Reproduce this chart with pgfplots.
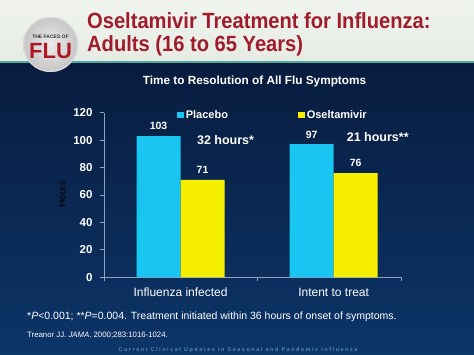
\documentclass[border=0pt]{standalone}
\usepackage{pgfplots}
\pgfplotsset{compat=1.18}
\usepackage{fontspec}
\setmainfont{Liberation Sans}
\definecolor{navytop}{HTML}{081C3E}
\definecolor{navybot}{HTML}{0C3568}
\definecolor{headbg}{HTML}{E6ECE3}
\definecolor{tealline}{HTML}{4AA8A0}
\definecolor{titlered}{HTML}{A01C2C}
\definecolor{barcyan}{HTML}{19C6F2}
\definecolor{baryellow}{HTML}{F6F000}
\definecolor{axisgray}{HTML}{8CA2C2}
\definecolor{footblue}{HTML}{5A86B8}
\begin{document}
\begin{tikzpicture}
% backgrounds
\shade[top color=navytop, bottom color=navybot] (0pt,0pt) rectangle (474pt,292pt);
\shade[top color=headbg!60!white, bottom color=headbg] (0pt,293.5pt) rectangle (474pt,355pt);
\fill[tealline] (0pt,291.5pt) rectangle (474pt,293.8pt);
% logo
\shade[inner color=gray!15, outer color=gray!45] (50.5pt,310.5pt) circle (27.5pt);
\draw[white!70!gray, line width=1.2pt] (50.5pt,310.5pt) circle (27pt);
\node[font=\bfseries\fontsize{5}{5}\selectfont, text=black!80, inner sep=0pt] at (50.5pt,318pt) {THE FACES OF};
\node[font=\bfseries\fontsize{22}{22}\selectfont, text=titlered!85!red, inner sep=0pt] at (50.5pt,304pt) {FLU};
% slide title
\node[anchor=base west, font=\bfseries\fontsize{22}{22}\selectfont, text=titlered, inner sep=0pt] at (87pt,326pt) {\scalebox{0.915}[1]{Oseltamivir Treatment for Influenza:}};
\node[anchor=base west, font=\bfseries\fontsize{22}{22}\selectfont, text=titlered, inner sep=0pt] at (87pt,303.3pt) {\scalebox{0.915}[1]{Adults (16 to 65 Years)}};
% chart title
\node[font=\bfseries\fontsize{11.8}{13}\selectfont, text=white, inner sep=0pt] at (254.5pt,274pt) {Time to Resolution of All Flu Symptoms};
\begin{axis}[
  at={(104pt,77.7pt)}, anchor=south west,
  scale only axis, width=297pt, height=164.6pt,
  xmin=-0.5, xmax=1.44, ymin=0, ymax=120,
  clip=false,
  axis x line*=bottom, axis y line*=left,
  axis line style={axisgray, line width=0.8pt},
  /pgf/number format/assume math mode=true,
  ytick={0,20,...,120},
  xtick={-0.5,0.5,1.44}, xticklabels={},
  extra x ticks={0,1},
  extra x tick labels={Influenza infected, Intent to treat},
  extra x tick style={major tick length=0pt},
  tick align=outside, major tick length=4pt,
  tick style={axisgray, line width=0.8pt},
  yticklabel style={font=\bfseries\fontsize{11.5}{11.5}\selectfont, text=white, xshift=-4pt},
  xticklabel style={font=\fontsize{12}{12}\selectfont, text=white, yshift=-7pt},
  ylabel={Hours},
  ylabel style={font=\bfseries\fontsize{10.5}{11}\selectfont, text=white},
  every axis y label/.style={at={(axis description cs:-0.141,0.506)}, rotate=90, anchor=center},
  ybar=0pt, bar width=44pt,
  nodes near coords,
  every node near coord/.append style={font=\bfseries\fontsize{10.5}{10.5}\selectfont, text=white, yshift=2.5pt},
  legend style={draw=none, fill=none, text=white, font=\bfseries\fontsize{11}{11}\selectfont,
    at={(rel axis cs:0.235,0.985)}, anchor=west, legend columns=2,
    /tikz/every even column/.append style={column sep=68pt}},
  legend image code/.code={\fill[#1,draw=none] (0pt,-3.2pt) rectangle (6.8pt,3.6pt);},
]
\addplot[fill=barcyan, draw=none] coordinates {(0,103) (1,97)};
\addplot[fill=baryellow, draw=none] coordinates {(0,71) (1,76)};
\legend{Placebo, Oseltamivir}
\node[text=white, font=\bfseries\fontsize{12.5}{12.5}\selectfont, inner sep=0pt] at (axis cs:0.294,100.1) {32 hours*};
\node[text=white, font=\bfseries\fontsize{12.5}{12.5}\selectfont, inner sep=0pt] at (axis cs:1.288,102.3) {21 hours**};
\end{axis}
% footnotes
\node[anchor=base west, font=\fontsize{10.5}{11}\selectfont, text=white, inner sep=0pt] at (27pt,35pt) {*\textit{P}<0.001; **\textit{P}=0.004. Treatment initiated within 36 hours of onset of symptoms.};
\node[anchor=base west, font=\fontsize{7.8}{8}\selectfont, text=white, inner sep=0pt] at (27pt,17.5pt) {Treanor JJ. \textit{JAMA}. 2000;283:1016-1024.};
\node[font=\bfseries\fontsize{5.5}{6}\selectfont, text=footblue, inner sep=0pt] at (238pt,5pt) {\addfontfeature{LetterSpace=28}Current Clinical Updates in Seasonal and Pandemic Influenza};
\end{tikzpicture}
\end{document}
